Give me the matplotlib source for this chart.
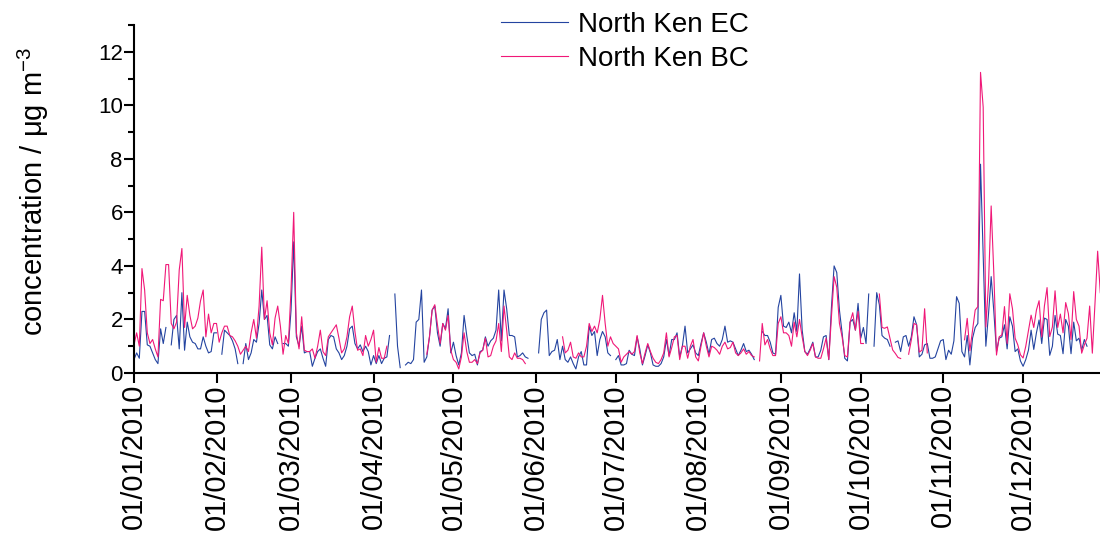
import numpy as np
import pandas as pd
import matplotlib
matplotlib.use('Agg')
import matplotlib.pyplot as plt
import matplotlib.dates as mdates
from matplotlib.ticker import MultipleLocator

plt.rcParams['font.family'] = ['Liberation Sans', 'DejaVu Sans']
plt.rcParams['mathtext.default'] = 'regular'

nan = np.nan

# daily EC (ug m-3), one list per month, nan = no data
ec_jan = [0.5, 0.75, 0.55, 2.3, 2.3, 1.05, 1.0, 0.75, 0.5, 0.35, 1.65, 1.1, 1.7, nan, 1.05, 2.0,
          2.15, 0.9, 3.0, 0.85, 1.9, 1.35, 1.15, 1.1, 0.9, 0.9, 1.35, 1.0, 0.75, 0.8, 1.5]
ec_feb = [1.5, nan, 0.7, 1.6, 1.5, 1.4, 1.2, 0.9, 0.35, nan, 0.35, 1.1, 0.5, 0.75, 1.25, 1.15,
          1.85, 3.1, 2.0, 2.15, 1.05, 0.9, 1.35, 1.1, nan, 1.1, 1.1, 1.0]
ec_mar = [2.35, 4.9, 1.35, 1.0, 1.75, 0.75, 0.8, 0.8, 0.25, 0.55, 0.8, 0.9, 0.55, 0.25, 1.25, 1.4,
          1.35, 0.9, 0.75, 0.5, 0.65, 1.0, 1.65, 1.75, 1.1, 0.9, 1.05, 0.8, 1.0, 0.8, 0.3]
ec_apr = [0.65, 0.35, 0.65, 0.35, 0.55, 0.6, 1.4, nan, 2.95, 1.0, 0.2, nan, 0.3, 0.4, 0.35, 0.5,
          1.9, 2.0, 3.1, 0.4, 0.6, 1.35, 2.35, 2.5, 1.5, 1.0, 1.85, 1.65, 2.4, 0.75]
ec_may = [1.15, 0.65, 0.3, 0.75, 2.15, 1.4, 0.75, 0.65, 0.7, 0.3, 0.8, 0.85, 1.35, 1.0, 1.2, 1.3,
          1.6, 3.1, 1.2, 3.1, 2.4, 1.4, 1.4, 1.35, 0.6, 0.65, 0.75, 0.6, 0.55, nan, nan]
ec_jun = [nan, 0.75, 2.0, 2.25, 2.35, 0.65, 0.8, 0.85, 1.25, 0.5, 1.0, 0.5, 0.4, 0.6, 0.35, 0.15,
          0.6, 0.8, 0.3, 0.3, 1.75, 1.4, 1.55, 0.65, 1.25, 1.55, 1.35, 0.75, 0.65, nan]
ec_jul = [0.5, 0.65, 0.3, 0.3, 0.35, 0.85, 0.7, 0.65, 1.35, 0.9, 0.3, 0.65, 1.05, 0.75, 0.3, 0.25,
          0.25, 0.35, 0.6, 1.25, 0.65, 1.25, 1.25, 1.5, 0.6, 1.0, 1.75, 0.75, 0.9, 1.05, 0.75]
ec_aug = [0.65, 1.1, 1.5, 1.15, 0.7, 1.25, 1.3, 1.1, 1.0, 1.25, 1.75, 1.15, 1.2, 1.15, 0.9, 0.65,
          0.85, 1.1, 0.8, 0.85, 0.7, 0.5, nan, nan, 1.55, 1.4, 1.4, 1.15, 0.75, 0.7, 2.45]
ec_sep = [2.9, 1.75, 1.7, 1.9, 1.5, 2.25, 1.55, 3.7, 1.6, 0.8, 0.7, 0.9, 1.15, 0.6, 0.6, 0.85,
          1.35, 1.4, 0.5, 2.45, 4.0, 3.75, 2.35, 1.5, 0.55, 0.45, 1.9, 2.0, 1.6, 2.6]
ec_oct = [1.3, 1.7, 1.1, 2.95, nan, 1.0, 3.0, 2.55, 1.4, 1.3, 1.25, 1.0, nan, 1.15, 1.2, 0.8,
          1.35, 1.4, 1.0, 1.35, 2.1, 1.8, 0.6, 0.7, 1.05, 1.1, 0.55, 0.55, 0.6, 0.9, 1.2]
ec_nov = [1.25, 0.5, 0.85, 0.7, 1.2, 2.85, 2.6, 0.8, 0.6, 1.4, 0.3, 1.3, 1.7, 1.85, 7.8, 4.4,
          1.0, 2.2, 3.6, 2.3, 0.8, 1.3, 1.35, 1.8, 0.9, 2.1, 1.75, 0.8, 0.9, 0.45]
ec_dec = [0.25, 0.5, 0.85, 1.6, 0.88, 1.5, 1.98, 1.1, 2.05, 2.0, 0.66, 1.0, 2.15, 1.45, 1.4, 0.72,
          2.0, 1.75, 0.72, 1.9, 1.2, 1.3, 0.85, 1.25, 1.0, nan, nan, nan, nan, nan, nan]

# daily BC (ug m-3)
bc_jan = [1.05, 1.5, 1.0, 3.9, 3.1, 1.5, 1.1, 1.25, 0.9, 0.6, 2.75, 2.7, 4.05, 4.05, 1.85, 1.65,
          1.9, 3.85, 4.65, 1.7, 2.9, 2.15, 1.65, 1.75, 2.05, 2.7, 3.1, 1.35, 2.2, 1.5, 1.85]
bc_feb = [1.85, 1.15, 1.5, 1.75, 1.75, 1.4, 1.35, 1.2, 1.0, 0.7, 0.85, 1.0, 0.8, 1.5, 2.0, 1.3,
          2.5, 4.7, 2.0, 2.7, 1.5, 1.05, 2.05, 2.5, 1.75, 0.7, 1.4, 1.1]
bc_mar = [3.1, 6.0, 1.5, 0.9, 2.1, 0.85, 0.8, 0.8, 0.9, 0.55, 1.0, 1.6, 0.8, 0.65, 1.35, 1.5,
          1.65, 1.8, 1.3, 0.75, 0.9, 1.35, 2.1, 2.5, 1.55, 0.85, 0.9, 0.65, 1.4, 1.0, 1.25]
bc_apr = [1.6, 0.4, 0.95, 0.55, 0.55, 1.0, nan, nan, nan, nan, nan, nan, nan, nan, nan, nan,
          nan, nan, nan, nan, 0.7, 1.35, 2.35, 2.55, 1.8, 1.1, 1.85, 1.6, 2.15, 0.85]
bc_may = [0.5, 0.4, 0.15, 0.6, 1.5, 0.8, 0.4, 0.4, 0.5, 0.35, 0.75, 0.85, 1.3, 0.6, 0.65, 1.0,
          1.2, 1.85, 0.8, 2.5, 1.6, 0.6, 0.5, 0.75, 0.55, 0.55, 0.5, 0.35, nan, nan, nan]
bc_jun = [nan, nan, nan, nan, nan, nan, nan, nan, nan, nan, 1.35, 0.75, 0.85, 1.15, 0.6, 0.55,
          0.75, 0.6, 0.6, 1.0, 1.85, 1.55, 1.75, 1.5, 2.0, 2.9, 1.85, 1.0, 1.35, 1.1]
bc_jul = [1.0, 0.9, 0.4, 0.6, 0.7, 0.8, 0.7, 0.8, 1.4, 0.75, 0.35, 0.75, 1.1, 0.8, 0.55, 0.4,
          0.35, 0.5, 0.75, 1.5, 0.6, 0.95, 1.35, 1.4, 0.5, 1.0, 1.0, 0.55, 1.0, 1.25, 0.6]
bc_aug = [0.45, 1.0, 1.5, 1.0, 0.6, 1.0, 0.95, 0.85, 0.7, 1.0, 1.15, 0.9, 0.95, 1.15, 0.75, 0.65,
          0.75, 0.9, 0.7, 0.8, 0.65, 0.6, nan, 0.45, 1.85, 1.05, 1.25, 0.9, 0.65, 0.65, 1.85]
bc_sep = [2.1, 1.5, 1.5, 1.4, 1.0, 1.9, 1.35, 2.0, 1.35, 0.8, 0.65, 0.85, 1.1, 0.6, 0.55, 0.55,
          0.9, 1.3, 0.5, 2.1, 3.6, 3.2, 1.85, 1.35, 0.65, 0.6, 1.9, 2.25, 1.6, 2.3]
bc_oct = [1.1, 1.1, nan, nan, nan, nan, nan, 2.95, 1.7, 1.67, 1.72, 1.29, 0.86, 0.73, 0.58, 0.54,
          nan, nan, 0.7, 1.23, 1.85, 1.8, 0.78, 0.85, 2.4, 0.75, nan, nan, nan, nan, nan]
bc_nov = [nan, nan, nan, nan, nan, nan, nan, nan, 1.24, 2.04, 0.83, 1.6, 2.35, 2.48, 11.23, 9.93,
          1.72, 3.34, 6.24, 3.72, 0.67, 1.35, 1.42, 2.48, 1.1, 2.96, 2.4, 1.3, 1.05, 0.68]
bc_dec = [0.56, 1.0, 1.58, 2.16, 1.7, 2.35, 2.7, 1.35, 2.5, 3.19, 1.36, 1.72, 3.07, 1.7, 2.2, 1.5,
          2.63, 2.22, 1.25, 3.04, 2.0, 1.75, 0.74, 1.05, 1.3, 2.5, 0.74, 2.6, 4.55, 3.0, 2.6]

ec = np.array(ec_jan + ec_feb + ec_mar + ec_apr + ec_may + ec_jun +
              ec_jul + ec_aug + ec_sep + ec_oct + ec_nov + ec_dec, dtype=float)
bc = np.array(bc_jan + bc_feb + bc_mar + bc_apr + bc_may + bc_jun +
              bc_jul + bc_aug + bc_sep + bc_oct + bc_nov + bc_dec, dtype=float)
dates = pd.date_range('2010-01-01', periods=len(ec), freq='D')

fig = plt.figure(figsize=(11, 5.4), dpi=100)
ax = fig.add_axes([0.1218, 0.3093, 0.878, 0.6444])

ax.plot(dates, ec, color='#2444a0', lw=0.8, label='North Ken EC')
ax.plot(dates, bc, color='#f01878', lw=0.8, label='North Ken BC')

ax.set_xlim(dates[0], dates[0] + pd.Timedelta(days=362.8))
ax.set_ylim(0, 13)

ax.xaxis.set_major_locator(mdates.MonthLocator())
ax.xaxis.set_major_formatter(mdates.DateFormatter('%d/%m/%Y'))
ax.yaxis.set_major_locator(MultipleLocator(2))
ax.yaxis.set_minor_locator(MultipleLocator(1))

for s in ['top', 'right']:
    ax.spines[s].set_visible(False)
for s in ['left', 'bottom']:
    ax.spines[s].set_linewidth(1.5)

ax.tick_params(axis='x', which='major', direction='out', length=7, width=1.5,
               labelsize=21, rotation=90, pad=1)
ax.tick_params(axis='y', which='major', direction='out', length=7, width=1.5,
               labelsize=16, pad=1)
ax.tick_params(axis='y', which='minor', direction='out', length=4, width=1.5)

ax.set_ylabel('concentration / \u03bcg m$^{-3}$', fontsize=21)
ax.yaxis.set_label_coords(-0.086, 0.523)

ax.legend(loc='upper left', bbox_to_anchor=(0.443, 1.004), bbox_transform=fig.transFigure,
          frameon=False, fontsize=20, handlelength=2.4, handletextpad=0.35,
          borderpad=0.0, labelspacing=0.3)

fig.savefig('out.png', dpi=100)
